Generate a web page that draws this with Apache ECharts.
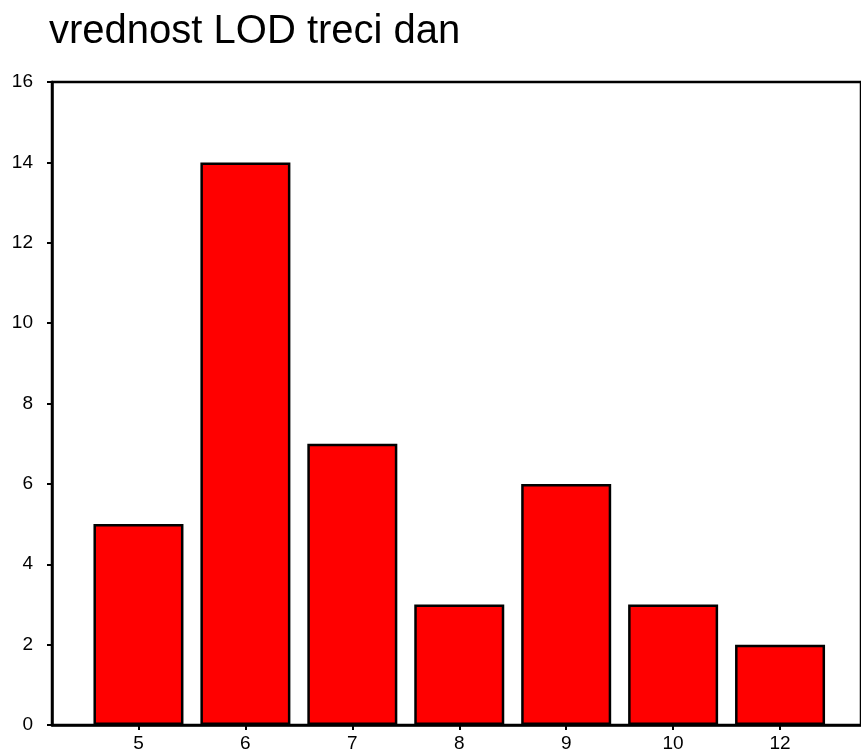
<!DOCTYPE html>
<html>
<head>
<meta charset="utf-8">
<script src="https://cdn.jsdelivr.net/npm/echarts@6/dist/echarts.min.js"></script>
<style>
  html, body { margin: 0; padding: 0; background: #fff; }
  #chart { width: 861px; height: 753px; }
</style>
</head>
<body>
<div id="chart"></div>
<script>
// podaci
var categories = ['5', '6', '7', '8', '9', '10', '12'];
var counts = [5, 14, 7, 3, 6, 3, 2];

var chart = echarts.init(document.getElementById('chart'));

var idx = categories.map(function (c, i) { return i; });
var barData = counts.map(function (v, i) { return [i, v]; });

var option = {
  animation: false,
  backgroundColor: '#fff',
  textStyle: { fontFamily: 'Liberation Sans, Arial, sans-serif' },
  title: {
    text: 'vrednost LOD treci dan',
    left: 49,
    top: 12,
    padding: 0,
    textStyle: {
      color: '#000',
      fontSize: 40,
      fontWeight: 'normal',
      fontFamily: 'Liberation Sans, Arial, sans-serif'
    }
  },
  grid: {
    left: 52,
    right: -5,
    top: 82,
    bottom: 28,
    show: true,
    borderColor: '#000',
    borderWidth: 2.5,
    backgroundColor: 'transparent'
  },
  xAxis: {
    type: 'value',
    min: -0.8086,
    max: 6.757,
    splitLine: { show: false },
    axisLine: { show: true, onZero: false, lineStyle: { color: '#000', width: 2.5 } },
    axisTick: {
      show: true,
      customValues: idx,
      length: 5,
      lineStyle: { color: '#000', width: 2 }
    },
    axisLabel: {
      customValues: idx,
      color: '#000',
      fontSize: 19,
      margin: 9,
      formatter: function (v) { return categories[Math.round(v)]; }
    }
  },
  yAxis: {
    type: 'value',
    min: 0,
    max: 16,
    interval: 2,
    splitLine: { show: false },
    axisLine: { show: true, onZero: false, lineStyle: { color: '#000', width: 2.5 } },
    axisTick: { show: true, length: 5, lineStyle: { color: '#000', width: 2 } },
    axisLabel: { color: '#000', fontSize: 19, margin: 19 }
  },
  series: [{
    type: 'bar',
    data: barData,
    barWidth: 90,
    itemStyle: {
      color: '#ff0000',
      borderColor: '#000',
      borderWidth: 2.5
    }
  }]
};

chart.setOption(option);
</script>
</body>
</html>
